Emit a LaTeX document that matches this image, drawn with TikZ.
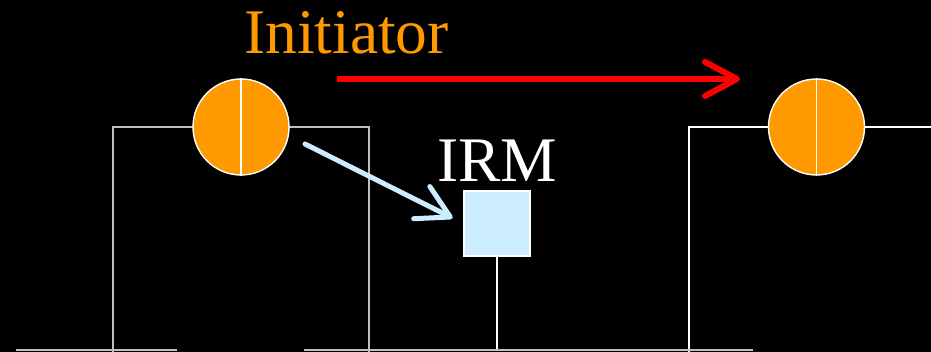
\documentclass[tikz,border=0pt]{standalone}
\usepackage{fontspec}
\setmainfont{Liberation Serif}
\usetikzlibrary{arrows.meta}
\definecolor{orng}{HTML}{FF9900}
\definecolor{irmblue}{HTML}{CCECFF}
\tikzset{
  neuron/.style={circle,draw=white,line width=1.4pt,fill=orng,minimum size=96pt,inner sep=0pt},
  wire/.style={white!75!black,line width=1.4pt},
  brightwire/.style={white,line width=1.6pt},
  bigtext/.style={font=\fontsize{63.5}{70}\selectfont,inner sep=0pt},
}

\begin{document}
\begin{tikzpicture}[x=1pt,y=-1pt]
% background
\fill[black] (0,0) rectangle (931,352);
\useasboundingbox (0,0) rectangle (931,352);
% free ends
\coordinate (lfoot) at (113,352);
\coordinate (lcorner) at (369,352);
\coordinate (rfoot) at (689,352);
\coordinate (rend) at (931,127);
\coordinate (stemend) at (497,350);
\coordinate (baseAl) at (16,350);
\coordinate (baseAr) at (177,350);
\coordinate (baseBl) at (304,350);
\coordinate (baseBr) at (753,350);
\coordinate (redstart) at (337,79);
\coordinate (redend) at (740,79);
\coordinate (bluestart) at (305,144);
% outlines (behind the neurons)
\draw[wire] (lfoot) |- (241,127) -| (lcorner);
\draw[brightwire] (rfoot) |- (rend);
% neurons
\node[neuron] (pre) at (241,127) {};
\node[neuron] (post) at (816.5,127) {};
\draw[white,line width=1.4pt] (pre.north) -- (pre.south);
\draw[white,line width=1.4pt] (post.north) -- (post.south);
% IRM box
\node[draw=white,line width=1.4pt,fill=irmblue,minimum width=66pt,minimum height=65pt,inner sep=0pt] (irm) at (497,223.5) {};
\draw[brightwire] (irm.south) -- (stemend);
% bottom lines
\draw[wire] (baseAl) -- (baseAr);
\draw[wire] (baseBl) -- (baseBr);
% labels
\node[bigtext,text=orng,anchor=base west] (initlabel) at (244,54) {Initiator};
\node[bigtext,text=white,anchor=base] (irmlabel) at (497,182) {IRM};
% arrows
\draw[red,line width=6pt,-{Straight Barb[length=32pt,width=34pt,round]}] (redstart) -- (redend);
\draw[irmblue,line width=5pt,line cap=round,shorten >=12pt,-{Straight Barb[length=32pt,width=36pt,round]}] (bluestart) -- (irm.west);
\end{tikzpicture}
\end{document}
